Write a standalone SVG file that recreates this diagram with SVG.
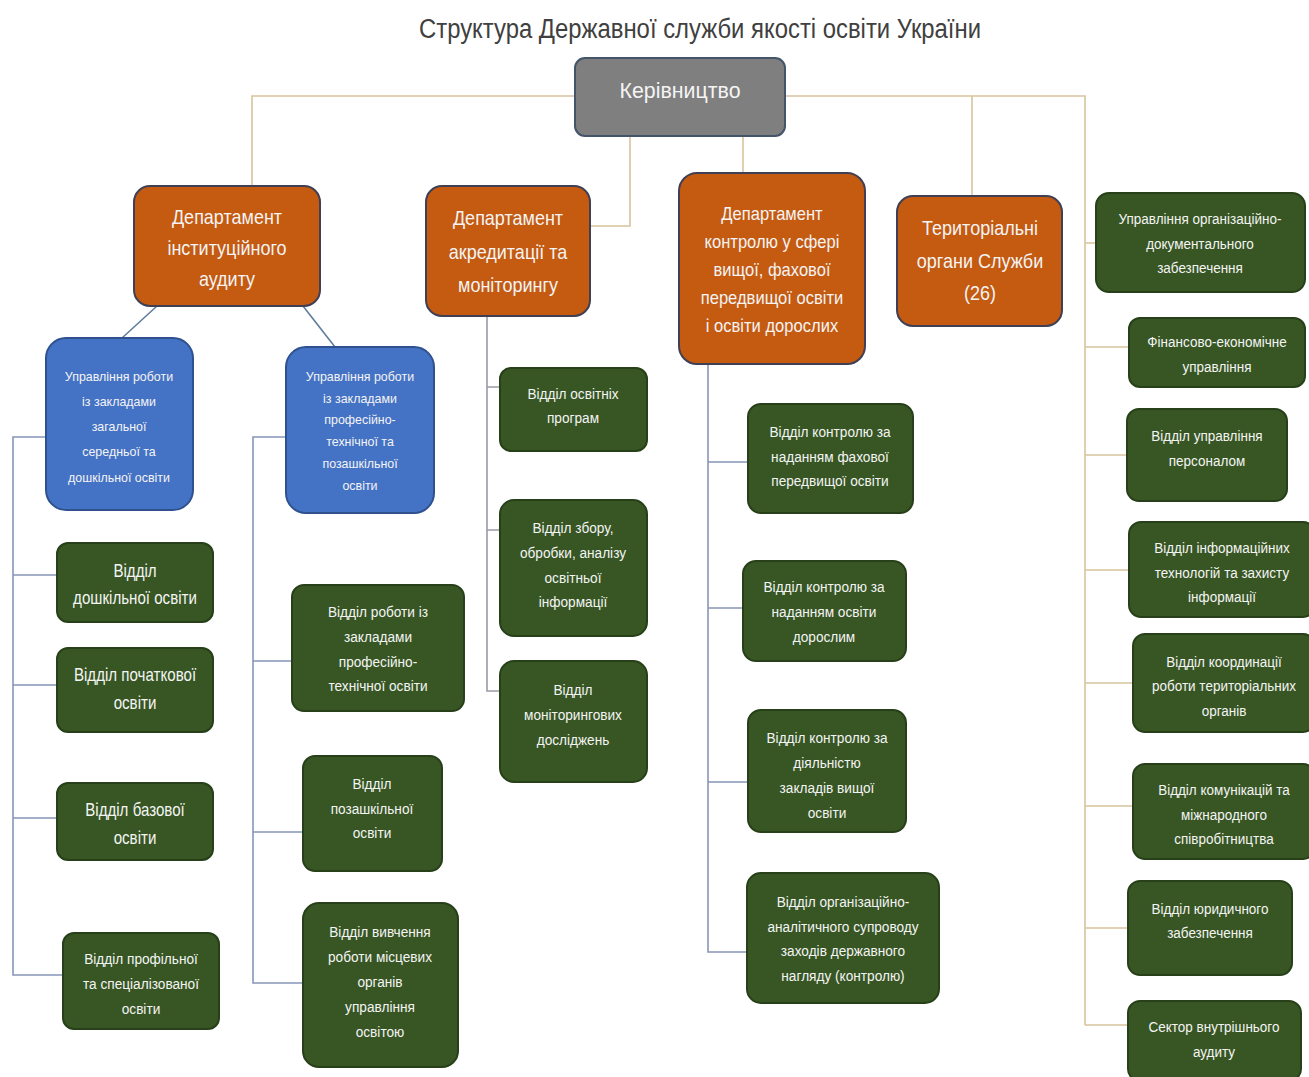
<svg xmlns="http://www.w3.org/2000/svg" width="1309" height="1077" viewBox="0 0 1309 1077">
<style>
text{font-family:"Liberation Sans","Open Sans",sans-serif;fill:#f4f4f4;text-anchor:middle}
.title{fill:#404040;font-size:27px}
.top{fill:#7f7f7f;stroke:#44546a;stroke-width:2}
.dep{fill:#c55a11;stroke:#3f3f55;stroke-width:2}
.blue{fill:#4472c4;stroke:#2f528f;stroke-width:2}
.grn{fill:#375623;stroke:#27401a;stroke-width:2}
.c-tan{fill:none;stroke:#d8c49e;stroke-width:1.6}
.c-blu{fill:none;stroke:#8797b8;stroke-width:1.6}
.c-dia{fill:none;stroke:#5f7d9c;stroke-width:1.6}
.c-gry{fill:none;stroke:#9a9aa8;stroke-width:1.6}
.f23{font-size:23px}.f20{font-size:20px}.f18{font-size:18px}.f15{font-size:15px}.f14{font-size:14.5px}.f12{font-size:13.5px}
</style>
<text class="title" x="700" y="38" textLength="562" lengthAdjust="spacingAndGlyphs">Структура Державної служби якості освіти України</text>

<g id="connectors">
<path class="c-tan" d="M575,96 H252 V186"/>
<path class="c-tan" d="M785,96 H1085 V1025"/>
<path class="c-tan" d="M972,96 V196"/>
<path class="c-tan" d="M630,136 V226 H590"/>
<path class="c-tan" d="M743,136 V173"/>
<path class="c-tan" d="M1085,243 H1096 M1085,347 H1129 M1085,455 H1127 M1085,570 H1129 M1085,683 H1133 M1085,806 H1133 M1085,928 H1128 M1085,1025 H1128"/>
<path class="c-dia" d="M157,306 L122,338 M303,306 L335,347"/>
<path class="c-blu" d="M46,437 H13 V975 H63 M13,575 H57 M13,685 H57 M13,818 H57"/>
<path class="c-blu" d="M286,437 H253 V983 H303 M253,661 H292 M253,832 H303"/>
<path class="c-gry" d="M487,316 V691 H500 M487,387 H500 M487,530 H500"/>
<path class="c-blu" d="M708,364 V952 H747 M708,462 H748 M708,608 H743 M708,782 H748"/>
</g>

<g id="kerivnytstvo">
<rect class="top" x="575" y="58" width="210" height="78" rx="10"/>
<text class="f23" transform="translate(680 0) scale(0.93 1)"><tspan x="0" y="98">Керівництво</tspan></text>
</g>

<g id="dep-inst">
<rect class="dep" x="134" y="186" width="186" height="120" rx="16"/>
<text class="f20" transform="translate(227 0) scale(0.9 1)"><tspan x="0" y="224">Департамент</tspan><tspan x="0" y="255">інституційного</tspan><tspan x="0" y="286">аудиту</tspan></text>
</g>
<g id="dep-akred">
<rect class="dep" x="426" y="186" width="164" height="130" rx="16"/>
<text class="f20" transform="translate(508 0) scale(0.9 1)"><tspan x="0" y="225">Департамент</tspan><tspan x="0" y="259">акредитації та</tspan><tspan x="0" y="292">моніторингу</tspan></text>
</g>
<g id="dep-kontrol">
<rect class="dep" x="679" y="173" width="186" height="191" rx="18"/>
<text class="f18" transform="translate(772 0) scale(0.92 1)"><tspan x="0" y="220">Департамент</tspan><tspan x="0" y="248">контролю у сфері</tspan><tspan x="0" y="276">вищої, фахової</tspan><tspan x="0" y="304">передвищої освіти</tspan><tspan x="0" y="332">і освіти дорослих</tspan></text>
</g>
<g id="terytorialni">
<rect class="dep" x="897" y="196" width="165" height="130" rx="16"/>
<text class="f20" transform="translate(980 0) scale(0.9 1)"><tspan x="0" y="235">Територіальні</tspan><tspan x="0" y="268">органи Служби</tspan><tspan x="0" y="300">(26)</tspan></text>
</g>

<g id="upr-zso">
<rect class="blue" x="46" y="338" width="147" height="172" rx="20"/>
<text class="f12" transform="translate(119 0) scale(0.92 1)"><tspan x="0" y="381">Управління роботи</tspan><tspan x="0" y="406">із закладами</tspan><tspan x="0" y="431">загальної</tspan><tspan x="0" y="456">середньої та</tspan><tspan x="0" y="482">дошкільної освіти</tspan></text>
</g>
<g id="upr-pto">
<rect class="blue" x="286" y="347" width="148" height="166" rx="20"/>
<text class="f12" transform="translate(360 0) scale(0.92 1)"><tspan x="0" y="381">Управління роботи</tspan><tspan x="0" y="403">із закладами</tspan><tspan x="0" y="424">професійно-</tspan><tspan x="0" y="446">технічної та</tspan><tspan x="0" y="468">позашкільної</tspan><tspan x="0" y="490">освіти</tspan></text>
</g>

<g id="v-doshk">
<rect class="grn" x="57" y="543" width="156" height="79" rx="11"/>
<text class="f18" transform="translate(135 0) scale(0.84 1)"><tspan x="0" y="577">Відділ</tspan><tspan x="0" y="604">дошкільної освіти</tspan></text>
</g>
<g id="v-pochat">
<rect class="grn" x="57" y="648" width="156" height="84" rx="11"/>
<text class="f18" transform="translate(135 0) scale(0.84 1)"><tspan x="0" y="681">Відділ початкової</tspan><tspan x="0" y="709">освіти</tspan></text>
</g>
<g id="v-baz">
<rect class="grn" x="57" y="783" width="156" height="77" rx="11"/>
<text class="f18" transform="translate(135 0) scale(0.84 1)"><tspan x="0" y="816">Відділ базової</tspan><tspan x="0" y="844">освіти</tspan></text>
</g>
<g id="v-prof">
<rect class="grn" x="63" y="933" width="156" height="96" rx="11"/>
<text class="f15" transform="translate(141 0) scale(0.91 1)"><tspan x="0" y="964">Відділ профільної</tspan><tspan x="0" y="989">та спеціалізованої</tspan><tspan x="0" y="1014">освіти</tspan></text>
</g>

<g id="v-pto">
<rect class="grn" x="292" y="585" width="172" height="126" rx="12"/>
<text class="f15" transform="translate(378 0) scale(0.91 1)"><tspan x="0" y="617">Відділ роботи із</tspan><tspan x="0" y="642">закладами</tspan><tspan x="0" y="667">професійно-</tspan><tspan x="0" y="691">технічної освіти</tspan></text>
</g>
<g id="v-pozashk">
<rect class="grn" x="303" y="756" width="139" height="115" rx="12"/>
<text class="f15" transform="translate(372 0) scale(0.91 1)"><tspan x="0" y="789">Відділ</tspan><tspan x="0" y="814">позашкільної</tspan><tspan x="0" y="838">освіти</tspan></text>
</g>
<g id="v-vyvch">
<rect class="grn" x="303" y="903" width="155" height="164" rx="16"/>
<text class="f15" transform="translate(380 0) scale(0.91 1)"><tspan x="0" y="937">Відділ вивчення</tspan><tspan x="0" y="962">роботи місцевих</tspan><tspan x="0" y="987">органів</tspan><tspan x="0" y="1012">управління</tspan><tspan x="0" y="1037">освітою</tspan></text>
</g>

<g id="v-osv-prog">
<rect class="grn" x="500" y="368" width="147" height="83" rx="11"/>
<text class="f15" transform="translate(573 0) scale(0.91 1)"><tspan x="0" y="399">Відділ освітніх</tspan><tspan x="0" y="423">програм</tspan></text>
</g>
<g id="v-zbir">
<rect class="grn" x="500" y="500" width="147" height="136" rx="14"/>
<text class="f15" transform="translate(573 0) scale(0.91 1)"><tspan x="0" y="533">Відділ збору,</tspan><tspan x="0" y="558">обробки, аналізу</tspan><tspan x="0" y="583">освітньої</tspan><tspan x="0" y="607">інформації</tspan></text>
</g>
<g id="v-monit">
<rect class="grn" x="500" y="661" width="147" height="121" rx="14"/>
<text class="f15" transform="translate(573 0) scale(0.91 1)"><tspan x="0" y="695">Відділ</tspan><tspan x="0" y="720">моніторингових</tspan><tspan x="0" y="745">досліджень</tspan></text>
</g>

<g id="v-fah">
<rect class="grn" x="748" y="404" width="165" height="109" rx="13"/>
<text class="f15" transform="translate(830 0) scale(0.91 1)"><tspan x="0" y="437">Відділ контролю за</tspan><tspan x="0" y="462">наданням фахової</tspan><tspan x="0" y="486">передвищої освіти</tspan></text>
</g>
<g id="v-dorosl">
<rect class="grn" x="743" y="561" width="163" height="100" rx="13"/>
<text class="f15" transform="translate(824 0) scale(0.91 1)"><tspan x="0" y="592">Відділ контролю за</tspan><tspan x="0" y="617">наданням освіти</tspan><tspan x="0" y="642">дорослим</tspan></text>
</g>
<g id="v-vyshch">
<rect class="grn" x="748" y="710" width="158" height="122" rx="13"/>
<text class="f15" transform="translate(827 0) scale(0.91 1)"><tspan x="0" y="743">Відділ контролю за</tspan><tspan x="0" y="768">діяльністю</tspan><tspan x="0" y="793">закладів вищої</tspan><tspan x="0" y="818">освіти</tspan></text>
</g>
<g id="v-orh-anal">
<rect class="grn" x="747" y="873" width="192" height="130" rx="14"/>
<text class="f15" transform="translate(843 0) scale(0.91 1)"><tspan x="0" y="907">Відділ організаційно-</tspan><tspan x="0" y="932">аналітичного супроводу</tspan><tspan x="0" y="956">заходів державного</tspan><tspan x="0" y="981">нагляду (контролю)</tspan></text>
</g>

<g id="upr-orh-dok">
<rect class="grn" x="1096" y="193" width="209" height="99" rx="13"/>
<text class="f14" transform="translate(1200 0) scale(0.93 1)"><tspan x="0" y="224">Управління організаційно-</tspan><tspan x="0" y="249">документального</tspan><tspan x="0" y="273">забезпечення</tspan></text>
</g>
<g id="fin-ek">
<rect class="grn" x="1129" y="318" width="176" height="69" rx="11"/>
<text class="f14" transform="translate(1217 0) scale(0.93 1)"><tspan x="0" y="347">Фінансово-економічне</tspan><tspan x="0" y="372">управління</tspan></text>
</g>
<g id="v-pers">
<rect class="grn" x="1127" y="409" width="160" height="92" rx="12"/>
<text class="f14" transform="translate(1207 0) scale(0.93 1)"><tspan x="0" y="441">Відділ управління</tspan><tspan x="0" y="466">персоналом</tspan></text>
</g>
<g id="v-it">
<rect class="grn" x="1129" y="522" width="186" height="95" rx="12"/>
<text class="f14" transform="translate(1222 0) scale(0.93 1)"><tspan x="0" y="553">Відділ інформаційних</tspan><tspan x="0" y="578">технологій та захисту</tspan><tspan x="0" y="602">інформації</tspan></text>
</g>
<g id="v-koord">
<rect class="grn" x="1133" y="634" width="182" height="98" rx="12"/>
<text class="f14" transform="translate(1224 0) scale(0.93 1)"><tspan x="0" y="667">Відділ координації</tspan><tspan x="0" y="691">роботи територіальних</tspan><tspan x="0" y="716">органів</tspan></text>
</g>
<g id="v-komun">
<rect class="grn" x="1133" y="764" width="182" height="95" rx="12"/>
<text class="f14" transform="translate(1224 0) scale(0.93 1)"><tspan x="0" y="795">Відділ комунікацій та</tspan><tspan x="0" y="820">міжнародного</tspan><tspan x="0" y="844">співробітництва</tspan></text>
</g>
<g id="v-yur">
<rect class="grn" x="1128" y="881" width="164" height="94" rx="12"/>
<text class="f14" transform="translate(1210 0) scale(0.93 1)"><tspan x="0" y="914">Відділ юридичного</tspan><tspan x="0" y="938">забезпечення</tspan></text>
</g>
<g id="sektor-audyt">
<rect class="grn" x="1128" y="1001" width="173" height="80" rx="12"/>
<text class="f14" transform="translate(1214 0) scale(0.93 1)"><tspan x="0" y="1032">Сектор внутрішнього</tspan><tspan x="0" y="1057">аудиту</tspan></text>
</g>
</svg>
